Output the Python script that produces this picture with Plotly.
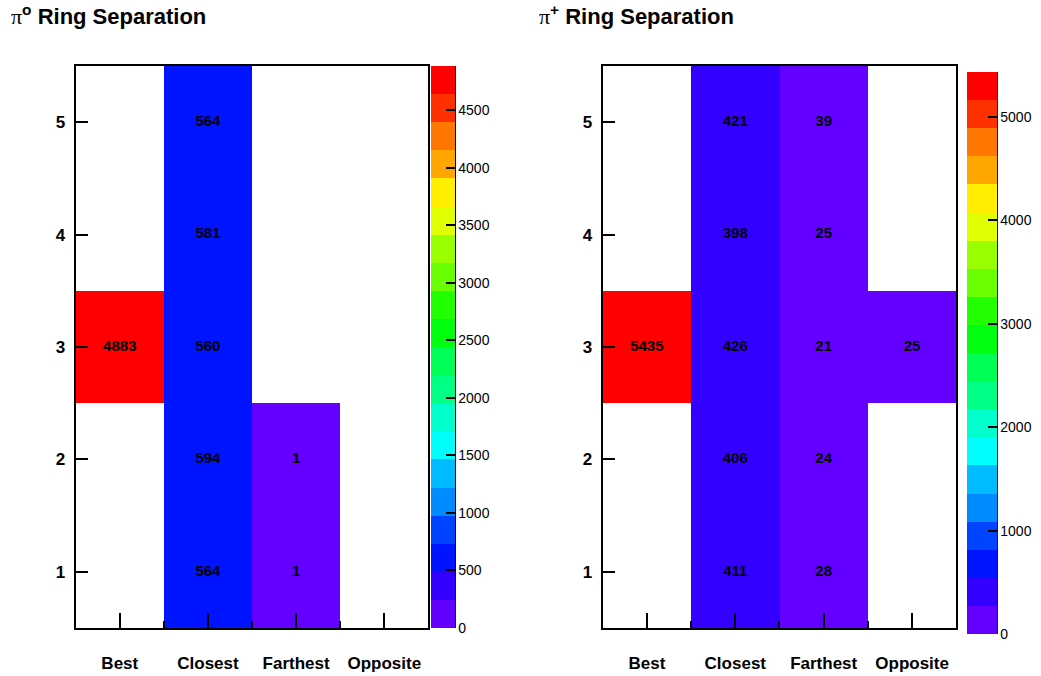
import colorsys
import plotly.graph_objects as go

# Bin labels and contents of the two 2D histograms
categories = ["Best", "Closest", "Farthest", "Opposite"]
rings = [1, 2, 3, 4, 5]

# rows = ring number 1..5, columns = categories
pi0_counts = [
    [None, 564, 1, None],
    [None, 594, 1, None],
    [4883, 560, None, None],
    [None, 581, None, None],
    [None, 564, None, None],
]
pip_counts = [
    [None, 411, 28, None],
    [None, 406, 24, None],
    [5435, 426, 21, 25],
    [None, 398, 25, None],
    [None, 421, 39, None],
]

pi0_ticks = [0, 500, 1000, 1500, 2000, 2500, 3000, 3500, 4000, 4500]
pip_ticks = [0, 1000, 2000, 3000, 4000, 5000]

W, H = 1041, 676
N_LEVELS = 20
N_COLORS = 50


def rainbow_palette():
    """Violet-to-red 'pretty' palette with 50 colours, last one pure red."""
    cols = []
    for i in range(N_COLORS - 1):
        hue = 280.0 - (i + 1) * (280.0 / N_COLORS)
        r, g, b = colorsys.hls_to_rgb(hue / 360.0, 0.5, 1.0)
        cols.append("rgb(%d,%d,%d)" % (round(r * 255), round(g * 255), round(b * 255)))
    cols.append("rgb(255,0,0)")
    return cols


def stepped_scale():
    pal = rainbow_palette()
    scale = []
    for k in range(N_LEVELS):
        idx = int((k + 0.99) * N_COLORS / N_LEVELS)
        c = pal[idx]
        scale.append([k / N_LEVELS, c])
        scale.append([(k + 1) / N_LEVELS, c])
    return scale


def px_x(v):
    return v / W


def px_y(v):
    return 1 - v / H


colorscale = stepped_scale()
fig = go.Figure()

panels = [
    # data, ticks, plot box (l, r, t, b), colorbar box (l, r, t, b), axis suffix, title, title x
    (pi0_counts, pi0_ticks, (76, 430, 66, 628), (433, 457, 66, 628), "",
     '<span style="font-family:Liberation Serif;font-weight:normal">π</span><sup>o</sup> Ring Separation', 9),
    (pip_counts, pip_ticks, (605, 960, 66, 628), (971, 1001, 72, 634), "2",
     '<span style="font-family:Liberation Serif;font-weight:normal">π</span><sup>+</sup> Ring Separation', 539),
]

xs = list(range(1, len(categories) + 1))

for counts, ticks, box, cb, sfx, title, tx in panels:
    zmax = max(v for row in counts for v in row if v is not None)
    xa = "x" + sfx
    ya = "y" + sfx
    fig.add_trace(go.Heatmap(
        x=xs, y=rings, z=counts,
        zmin=0, zmax=zmax,
        colorscale=colorscale,
        xaxis=xa, yaxis=ya,
        hoverongaps=False,
        colorbar=dict(
            x=px_x(cb[0]), xanchor="left", xref="paper",
            y=px_y(cb[2]), yanchor="top", yref="paper",
            len=(cb[3] - cb[2]) / H, lenmode="fraction",
            thickness=cb[1] - cb[0], thicknessmode="pixels",
            outlinewidth=0,
            tickvals=ticks, ticktext=[str(t) for t in ticks],
            ticks="inside", ticklen=9, tickwidth=2, tickcolor="black",
            tickfont=dict(family="Liberation Sans", size=14, color="black"),
            xpad=0, ypad=0,
        ),
    ))
    # axis line on the right side of the palette
    fig.add_shape(type="line", xref="paper", yref="paper",
                  x0=px_x(cb[1]), x1=px_x(cb[1]),
                  y0=px_y(cb[2]), y1=px_y(cb[3]),
                  line=dict(color="black", width=1.5))

    # bin content labels
    tx_x, tx_y, tx_t = [], [], []
    for ri, row in enumerate(counts):
        for ci, v in enumerate(row):
            if v is not None:
                tx_x.append(xs[ci])
                tx_y.append(rings[ri])
                tx_t.append(str(v))
    fig.add_trace(go.Scatter(
        x=tx_x, y=tx_y, text=tx_t, mode="text",
        textfont=dict(family="Liberation Sans", size=15, color="black", weight="bold"),
        xaxis=xa, yaxis=ya, hoverinfo="skip", showlegend=False,
    ))

    dom_x = [px_x(box[0]), px_x(box[1])]
    dom_y = [px_y(box[3]), px_y(box[2])]
    fig.update_layout(**{
        "xaxis" + sfx: dict(
            domain=dom_x, range=[0.5, len(categories) + 0.5],
            tickvals=xs, ticktext=categories,
            ticks="inside", ticklen=15, tickwidth=2, tickcolor="black",
            minor=dict(tickvals=[1.5, 2.5, 3.5], ticks="inside", ticklen=7,
                       tickwidth=1.5, tickcolor="black"),
            showline=True, linecolor="black", linewidth=2, mirror=True,
            showgrid=False, zeroline=False,
            tickfont=dict(family="Liberation Sans", size=17, color="black", weight="bold"),
            ticklabelstandoff=19,
            anchor=ya, fixedrange=True,
        ),
        "yaxis" + sfx: dict(
            domain=dom_y, range=[0.5, len(rings) + 0.5],
            tickvals=rings, ticktext=[str(r) for r in rings],
            ticks="inside", ticklen=12, tickwidth=2, tickcolor="black",
            showline=True, linecolor="black", linewidth=2, mirror=True,
            showgrid=False, zeroline=False,
            tickfont=dict(family="Liberation Sans", size=17, color="black", weight="bold"),
            ticklabelstandoff=5,
            anchor=xa, fixedrange=True,
        ),
    })

    fig.add_annotation(
        xref="paper", yref="paper", x=px_x(tx), y=px_y(15),
        xanchor="left", yanchor="middle", showarrow=False,
        text=title,
        font=dict(family="Liberation Sans", size=22, color="black", weight="bold"),
    )

fig.update_layout(
    width=W, height=H,
    margin=dict(l=0, r=0, t=0, b=0),
    paper_bgcolor="white", plot_bgcolor="white",
    showlegend=False,
)

fig.write_html("out.html")
